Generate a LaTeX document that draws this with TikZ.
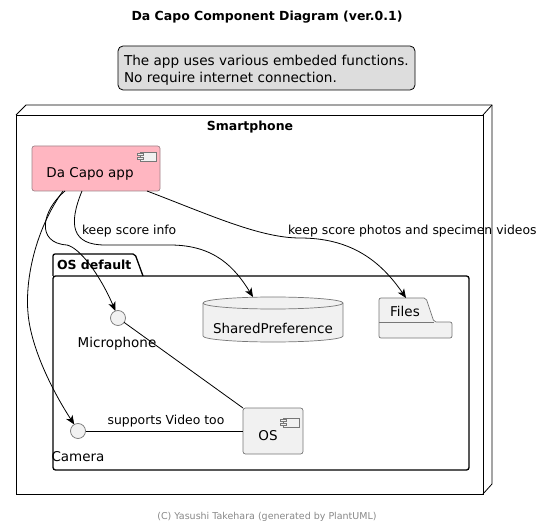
\documentclass[tikz,border=0pt]{standalone}
\usepackage{fontspec}
\setmainfont{DejaVu Sans}
\usetikzlibrary{arrows.meta}
\definecolor{compfill}{HTML}{F1F1F1}
\definecolor{compdraw}{HTML}{777777}
\definecolor{appfill}{HTML}{FFB6C1}
\definecolor{appdraw}{HTML}{A08489}
\definecolor{notefill}{HTML}{DDDDDD}
\definecolor{copygray}{HTML}{888888}
\begin{document}
\begin{tikzpicture}[x=1pt,y=-1pt,
  every node/.style={inner sep=0pt, outer sep=0pt},
  ntext/.style={font=\fontsize{13.5}{16}\selectfont},
  ltext/.style={font=\fontsize{12.4}{15}\selectfont},
  btext/.style={font=\bfseries\fontsize{12.5}{15}\selectfont},
  compbox/.style={draw=compdraw, fill=compfill, rounded corners=2.5pt, line width=0.7pt},
  appbox/.style={draw=appdraw, fill=appfill, rounded corners=2.5pt, line width=0.7pt},
  iface/.style={circle, draw=compdraw, fill=compfill, minimum size=15pt, line width=0.7pt},
  arr/.style={-{Stealth[length=9pt,width=7.5pt,inset=2.5pt]}, line width=0.8pt},
  plain/.style={line width=0.8pt},
  cmpicon/.pic={
    \draw[draw=compdraw, fill=compfill, line width=0.6pt] (0,0) rectangle (16,9);
    \draw[draw=compdraw, fill=compfill, line width=0.6pt] (-3,1.5) rectangle (3,3.5);
    \draw[draw=compdraw, fill=compfill, line width=0.6pt] (-3,5.5) rectangle (3,7.5);
  }]
\useasboundingbox (0,0) rectangle (546,529);

% title
\node[btext] (title) at (267,17) {Da Capo Component Diagram (ver.0.1)};

% note
\node[draw, fill=notefill, rounded corners=5pt, line width=0.8pt,
      minimum width=297pt, minimum height=44pt] (note) at (266.5,68) {};
\node[anchor=west, align=left, font=\fontsize{13.6}{17}\selectfont] (notetxt) at (124,70.5)
  {The app uses various embeded functions.\\No require internet connection.};

% smartphone node (3D box)
\node[draw, fill=white, line width=0.8pt, minimum width=467pt, minimum height=379pt] (phone) at (249.5,304.5) {};
\draw[line width=0.8pt] (phone.north west) -- ++(10,-10) -- ++(466,0) -- ++(0,379) -- (phone.south east);
\draw[line width=0.8pt] (phone.north east) -- ++(9,-10);
\node[btext] (phonelbl) at (250,127) {Smartphone};

% app component
\node[appbox, minimum width=128pt, minimum height=45pt] (app) at (96,168.5) {};
\node[ntext] (applbl) at (90,174) {Da Capo app};
\pic at (140,152) {cmpicon};

% OS default package
\node[draw, line width=1.3pt, rounded corners=2.5pt, minimum width=416pt, minimum height=194pt] (osdef) at (261,373) {};
\draw[line width=1.3pt, rounded corners=2pt] (osdef.north west) -- (53,254) -- (135,254) -- (143,276);
\node[btext, anchor=west] (osdeflbl) at (57,265) {OS default};

% SharedPreference (database)
\node[minimum width=140pt, minimum height=45pt] (shared) at (273,319.5) {};
\draw[draw=compdraw, fill=compfill, line width=0.7pt]
  (203,303) -- (203,336) arc[start angle=180, end angle=360, x radius=70pt, y radius=6pt]
  -- (343,303) arc[start angle=0, end angle=180, x radius=70pt, y radius=6pt] -- cycle;
\draw[draw=compdraw, line width=0.7pt] (203,303) arc[start angle=180, end angle=360, x radius=70pt, y radius=6pt];
\node[ntext] (sharedlbl) at (273,328) {SharedPreference};

% Files (folder)
\node[minimum width=73pt, minimum height=40pt] (files) at (415.5,318) {};
\draw[draw=compdraw, fill=compfill, line width=0.7pt, rounded corners=2pt]
  (379,322) -- (379,298) -- (426,298) -- (434,322) -- (452,322) -- (452,338) -- (379,338) -- cycle;
\draw[draw=compdraw, line width=0.7pt] (379,322) -- (434,322);
\node[ntext] (fileslbl) at (405,311) {Files};

% interfaces
\node[iface] (mic) at (118,318) {};
\node[ntext] (miclbl) at (117,344) {Microphone};
\node[iface] (cam) at (78,431) {};
\node[ntext] (camlbl) at (78,457) {Camera};

% OS component
\node[compbox, minimum width=60pt, minimum height=46pt] (os) at (273,431) {};
\node[ntext] (oslbl) at (268,436) {OS};
\pic at (283,418) {cmpicon};

% connectors
\draw[plain] (cam) -- (os);
\node[ltext] (camoslbl) at (166,421) {supports Video too};
\draw[plain] (mic) -- (os.north west);

\draw[arr] ([xshift=31pt]app.south west) .. controls (35,230) and (25,280) .. (28,313)
  .. controls (31,350) and (55,395) .. (cam.120);
\draw[arr] ([xshift=33pt]app.south west) .. controls (42,210) and (35,243) .. (67,245)
  .. controls (80,248) and (100,275) .. (mic.110);
\draw[arr] ([xshift=50pt]app.south west) .. controls (68,225) and (72,245) .. (105,245)
  -- (170,245) .. controls (215,245) and (235,268) .. ([xshift=-20pt]shared.north);
\node[ltext, anchor=west] (infolbl) at (82,231) {keep score info};
\draw[arr] ([xshift=115pt]app.south west) .. controls (210,215) and (260,238) .. (300,238)
  .. controls (350,238) and (380,260) .. ([xshift=-9.5pt]files.north);
\node[ltext, anchor=west] (fileslbl2) at (288,231) {keep score photos and specimen videos};

% footer
\node[font=\fontsize{9.5}{12}\selectfont, text=copygray] (copy) at (267,517) {(C) Yasushi Takehara (generated by PlantUML)};
\end{tikzpicture}
\end{document}
